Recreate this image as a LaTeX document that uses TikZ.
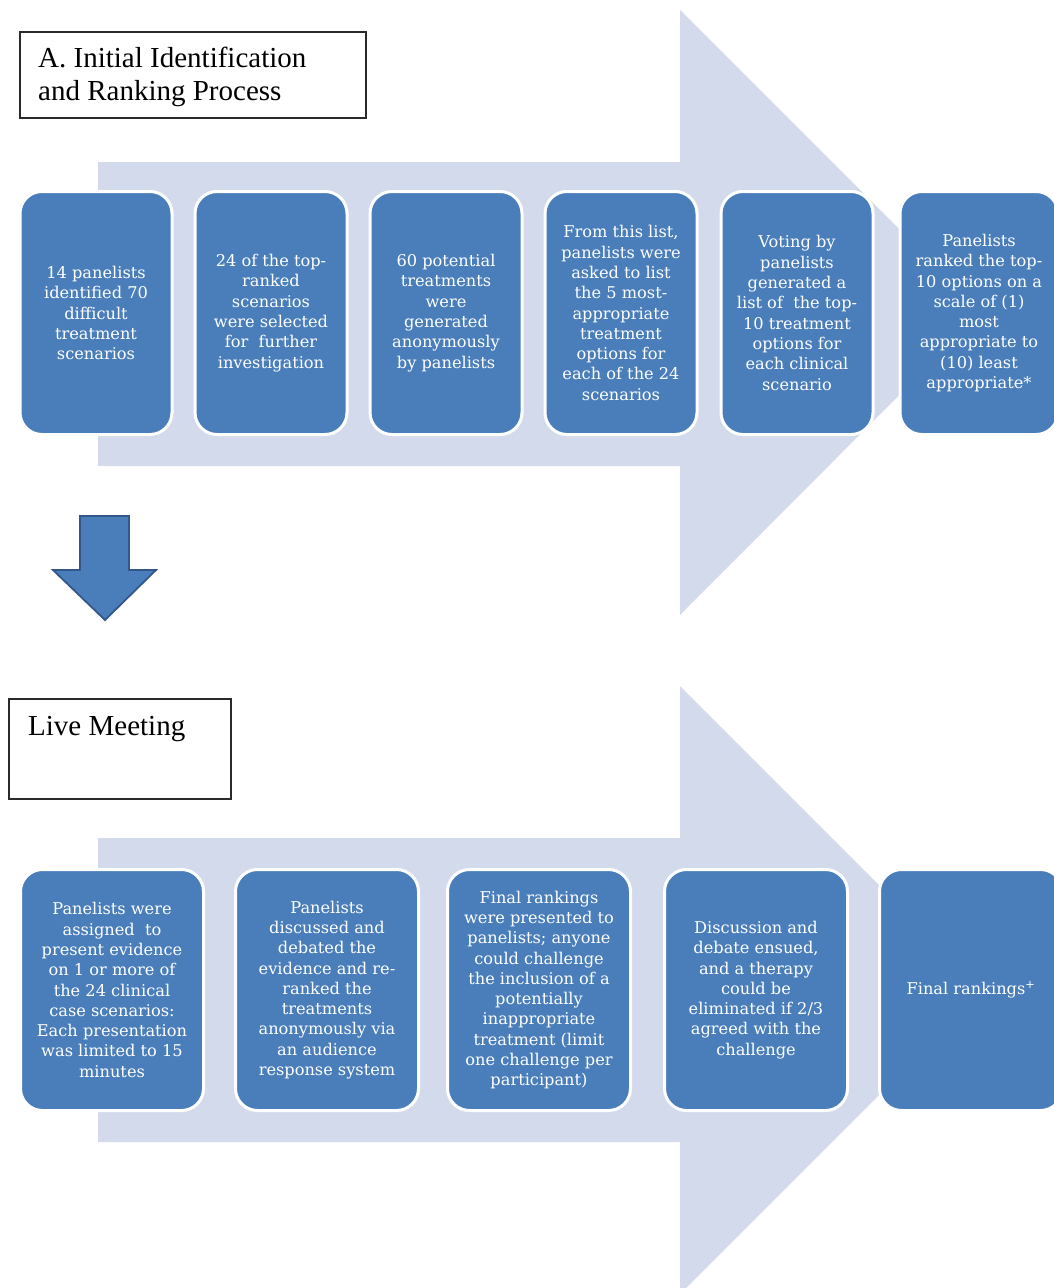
\documentclass[tikz,border=0pt]{standalone}
\usepackage{fontspec}
\setmainfont{Liberation Serif}
\newfontfamily\boxfont{DejaVu Serif}
\definecolor{arrowfill}{HTML}{D3DAEB}
\definecolor{boxfill}{HTML}{4A7EBB}
\definecolor{darrowedge}{HTML}{34578A}
\definecolor{frameline}{HTML}{2A2A2A}
\begin{document}
\begin{tikzpicture}[x=1pt,y=-1pt,
  stepbox/.style={draw=white, line width=3pt, fill=boxfill, rounded corners=22pt,
    text=white, align=center, font=\boxfont\fontsize{16.2}{20.3}\selectfont,
    minimum width=152pt, minimum height=243pt, inner sep=0pt},
  livebox/.style={stepbox, minimum width=183pt, minimum height=241pt},
  framebox/.style={draw=frameline, line width=1.6pt, fill=white, inner sep=0pt},
  titletext/.style={font=\fontsize{29}{32.5}\selectfont, align=left, inner sep=0pt},
  bigarrow/.style={fill=arrowfill, draw=none}]
\useasboundingbox (0,0) rectangle (1053,1288);
\fill[white] (0,0) rectangle (1053,1288);

% big arrows
\path[bigarrow] (98,162) -- (680,162) -- (680,10) -- (982,312) -- (680,615) -- (680,466) -- (98,466) -- cycle;
\path[bigarrow] (98,838) -- (680,838) -- (680,686) -- (984,990) -- (680,1294) -- (680,1142) -- (98,1142) -- cycle;

% title boxes
\node[framebox, anchor=north west, minimum width=346pt, minimum height=86pt] (tA) at (19,31) {};
\node[titletext, anchor=base west] (tAtext) at (38,100) {A. Initial Identification\\and Ranking Process};
\node[framebox, anchor=north west, minimum width=222pt, minimum height=100pt] (tB) at (8,698) {};
\node[titletext, anchor=base west] (tBtext) at (28,735) {Live Meeting};

% down arrow
\draw[fill=boxfill, draw=darrowedge, line width=1.8pt, line join=miter]
  (80,516) -- (129,516) -- (129,570) -- (156,570) -- (105,620) -- (53,570) -- (80,570) -- cycle;

% top row
\node[stepbox] (a1) at (96,313) {14 panelists\\identified 70\\difficult\\treatment\\scenarios};
\node[stepbox] (a2) at (271,313) {24 of the top-\\ranked\\scenarios\\were selected\\for\ \ further\\investigation};
\node[stepbox] (a3) at (446,313) {60 potential\\treatments\\were\\generated\\anonymously\\by panelists};
\node[stepbox] (a4) at (621,313) {From this list,\\panelists were\\asked to list\\the 5 most-\\appropriate\\treatment\\options for\\each of the 24\\scenarios};
\node[stepbox] (a5) at (797,313) {Voting by\\panelists\\generated a\\list of\ \ the top-\\10 treatment\\options for\\each clinical\\scenario};
\node[stepbox, minimum width=158pt] (a6) at (979,313) {Panelists\\ranked the top-\\10 options on a\\scale of (1)\\most\\appropriate to\\(10) least\\appropriate*};

% bottom row
\node[livebox] (b1) at (112,990) {Panelists were\\assigned\ \ to\\present evidence\\on 1 or more of\\the 24 clinical\\case scenarios:\\Each presentation\\was limited to 15\\minutes};
\node[livebox] (b2) at (327,990) {Panelists\\discussed and\\debated the\\evidence and re-\\ranked the\\treatments\\anonymously via\\an audience\\response system};
\node[livebox] (b3) at (539,990) {Final rankings\\were presented to\\panelists; anyone\\could challenge\\the inclusion of a\\potentially\\inappropriate\\treatment (limit\\one challenge per\\participant)};
\node[livebox] (b4) at (756,990) {Discussion and\\debate ensued,\\and a therapy\\could be\\eliminated if 2/3\\agreed with the\\challenge};
\node[livebox] (b5) at (971,990) {Final rankings\textsuperscript{+}};
\end{tikzpicture}
\end{document}
